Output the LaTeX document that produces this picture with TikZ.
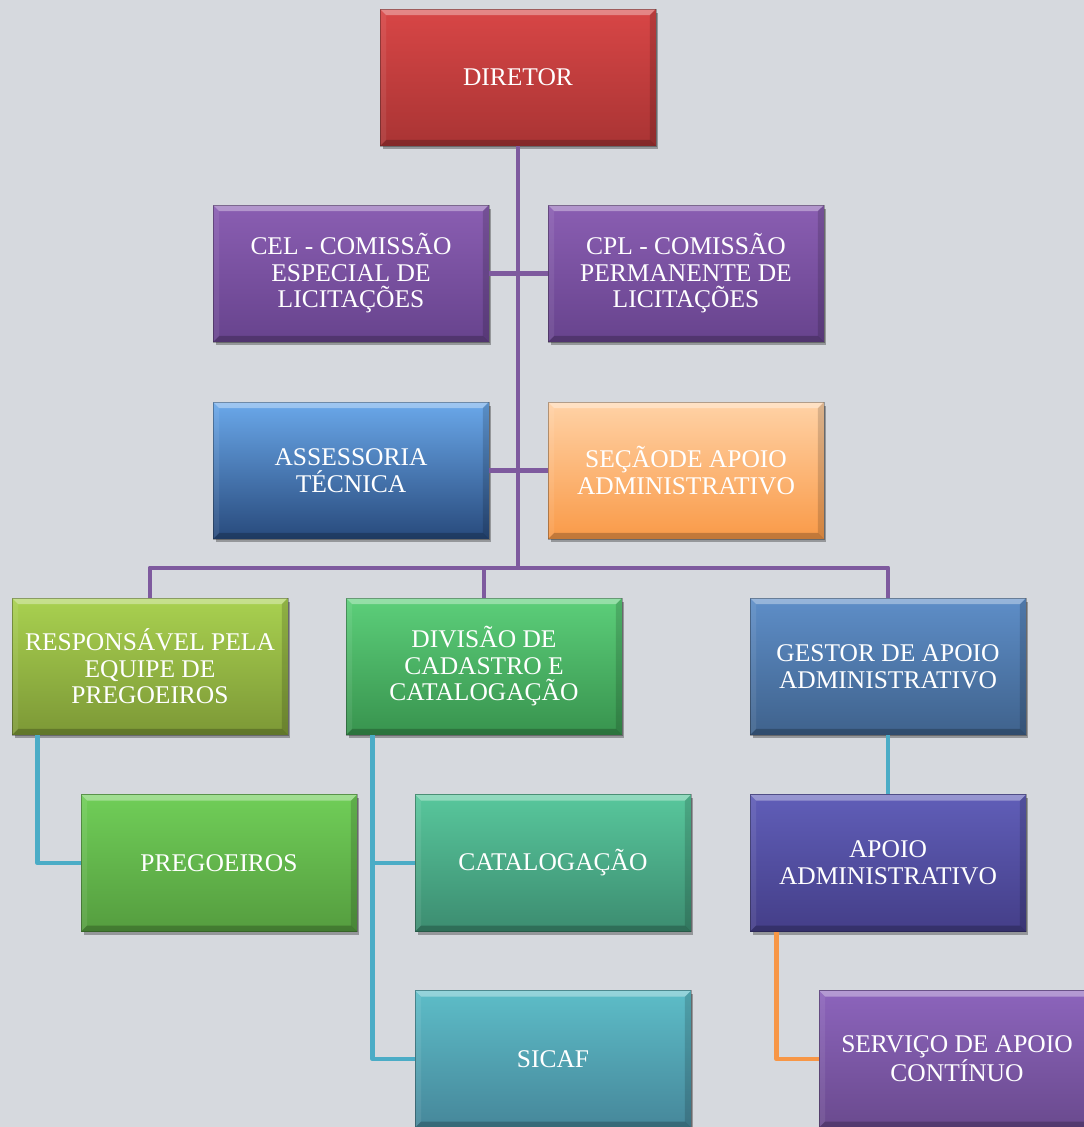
\documentclass[tikz,border=0pt]{standalone}
\usepackage{fontspec}
\setmainfont{Liberation Serif}
\usetikzlibrary{shadows,calc}
\definecolor{bg}{HTML}{D6D9DE}
\definecolor{pl}{HTML}{7E5A9E}
\definecolor{tl}{HTML}{4BACC6}
\definecolor{ol}{HTML}{F79646}
\definecolor{redT}{HTML}{D84646}\definecolor{redB}{HTML}{A93434}
\definecolor{purT}{HTML}{8A5EB2}\definecolor{purB}{HTML}{67438D}
\definecolor{bluT}{HTML}{6AA8EA}\definecolor{bluB}{HTML}{284A7C}
\definecolor{orgT}{HTML}{FFD2A6}\definecolor{orgB}{HTML}{F99A48}
\definecolor{limT}{HTML}{A9D150}\definecolor{limB}{HTML}{7C9836}
\definecolor{grnT}{HTML}{5CCF7A}\definecolor{grnB}{HTML}{38934E}
\definecolor{stlT}{HTML}{5E8EC8}\definecolor{stlB}{HTML}{3F628C}
\definecolor{lgrT}{HTML}{70CE58}\definecolor{lgrB}{HTML}{559D3F}
\definecolor{tqsT}{HTML}{58C79C}\definecolor{tqsB}{HTML}{3C8C70}
\definecolor{cyaT}{HTML}{5DBDC8}\definecolor{cyaB}{HTML}{46879A}
\definecolor{indT}{HTML}{605EB8}\definecolor{indB}{HTML}{443E88}
\definecolor{vioT}{HTML}{8C64BC}\definecolor{vioB}{HTML}{6A4A8E}
\tikzset{
  orgbox/.style 2 args={draw=black, draw opacity=0.3, line width=0.4pt, minimum width=5.52cm, minimum height=2.74cm,
    inner sep=0pt, align=center, text=white, font=\fontsize{14.5}{15.1}\selectfont,
    top color=#1, bottom color=#2,
    drop shadow={shadow xshift=0.05cm, shadow yshift=-0.07cm, opacity=0.3, fill=black},
    path picture={
      \fill[white, opacity=0.35] (path picture bounding box.north west) -- (path picture bounding box.north east)
        -- ([xshift=-0.12cm,yshift=-0.12cm]path picture bounding box.north east) -- ([xshift=0.12cm,yshift=-0.12cm]path picture bounding box.north west) -- cycle;
      \fill[black, opacity=0.22] (path picture bounding box.south west) -- (path picture bounding box.south east)
        -- ([xshift=-0.12cm,yshift=0.12cm]path picture bounding box.south east) -- ([xshift=0.12cm,yshift=0.12cm]path picture bounding box.south west) -- cycle;
      \fill[black, opacity=0.15] (path picture bounding box.north east) -- (path picture bounding box.south east)
        -- ([xshift=-0.12cm,yshift=0.12cm]path picture bounding box.south east) -- ([xshift=-0.12cm,yshift=-0.12cm]path picture bounding box.north east) -- cycle;
      \fill[white, opacity=0.08] (path picture bounding box.north west) -- (path picture bounding box.south west)
        -- ([xshift=0.12cm,yshift=0.12cm]path picture bounding box.south west) -- ([xshift=0.12cm,yshift=-0.12cm]path picture bounding box.north west) -- cycle;
    }},
  pline/.style={draw=pl, line width=2.8pt},
  tline/.style={draw=tl, line width=2.8pt},
  oline/.style={draw=ol, line width=2.8pt},
}
\begin{document}
\begin{tikzpicture}[x=0.02cm, y=-0.02cm]
\fill[bg] (0,0) rectangle (1084,1127);
\useasboundingbox (0,0) rectangle (1084,1127);
\clip (0,0) rectangle (1084,1127);
% nodes
\node[orgbox={redT}{redB}] (dir) at (518,77.5) {DIRETOR};
\node[orgbox={purT}{purB}] (cel) at (351,273.5) {CEL - COMISSÃO\\ESPECIAL DE\\LICITAÇÕES};
\node[orgbox={purT}{purB}] (cpl) at (686,273.5) {CPL - COMISSÃO\\PERMANENTE DE\\LICITAÇÕES};
\node[orgbox={bluT}{bluB}] (ass) at (351,470.5) {ASSESSORIA\\TÉCNICA};
\node[orgbox={orgT}{orgB}] (sec) at (686,470.5) {SEÇÃODE APOIO\\ADMINISTRATIVO};
\node[orgbox={limT}{limB}] (resp) at (150,666.5) {RESPONSÁVEL PELA\\EQUIPE DE\\PREGOEIROS};
\node[orgbox={grnT}{grnB}] (div) at (484,666.5) {DIVISÃO  DE\\CADASTRO  E\\CATALOGAÇÃO};
\node[orgbox={stlT}{stlB}] (gest) at (888,666.5) {GESTOR DE APOIO\\ADMINISTRATIVO};
\node[orgbox={lgrT}{lgrB}] (preg) at (219,863) {PREGOEIROS};
\node[orgbox={tqsT}{tqsB}] (cat) at (553,863) {CATALOGAÇÃO};
\node[orgbox={cyaT}{cyaB}] (sicaf) at (553,1059) {SICAF};
\node[orgbox={indT}{indB}] (apoio) at (888,863) {APOIO\\ADMINISTRATIVO};
\node[orgbox={vioT}{vioB}] (serv) at (957,1059) {SERVIÇO DE APOIO\\CONTÍNUO};
% connectors
\coordinate (busy) at (0,568);
\draw[pline] (dir.south) -- (dir.south |- busy);
\draw[pline] (cel.east) -- (cpl.west);
\draw[pline] (ass.east) -- (sec.west);
\draw[pline, line join=round] (resp.north) -- (resp.north |- busy) -| (gest.north);
\draw[pline] (div.north) -- (div.north |- busy);
\coordinate (rt) at ($(resp.south west)+(26,0)$);
\draw[tline, line join=round] (rt) |- (preg.west);
\coordinate (dt) at ($(div.south west)+(27,0)$);
\draw[tline, line join=round] (dt) |- (sicaf.west);
\draw[tline] (dt |- cat.west) -- (cat.west);
\draw[tline] (gest.south) -- (apoio.north);
\coordinate (at) at ($(apoio.south west)+(27,0)$);
\draw[oline, line join=round] (at) |- (serv.west);
\end{tikzpicture}
\end{document}
